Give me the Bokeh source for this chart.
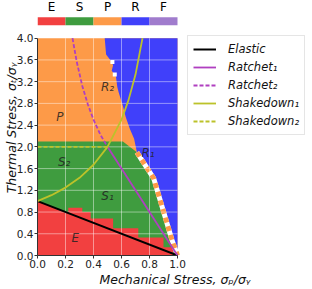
from bokeh.plotting import figure
from bokeh.models import Range1d, FixedTicker, Legend, LegendItem, PrintfTickFormatter
from bokeh.embed import file_html
from bokeh.resources import INLINE
from bokeh.core.properties import value

FONT = "DejaVu Sans"

# ---------------- data ----------------
regime_labels = ["E", "S", "P", "R", "F"]
regime_colors = ["#f24040", "#3f9c3f", "#fd9a48", "#4040fa", "#a07ccd"]

x_ticks = [0.0, 0.2, 0.4, 0.6, 0.8, 1.0]
y_ticks = [0.0, 0.4, 0.8, 1.2, 1.6, 2.0, 2.4, 2.8, 3.2, 3.6, 4.0]

# regime regions
orange_x = [0.0, 1.0, 1.0, 0.0]
orange_y = [0.0, 0.0, 4.0, 4.0]

red_x = [0.0, 0.0, 0.22, 0.22, 0.32, 0.32, 0.38, 0.38, 0.54, 0.54, 0.72, 0.72, 0.9, 0.9, 0.97, 0.97]
red_y = [0.0, 1.0, 0.78, 0.88, 0.88, 0.8, 0.8, 0.68, 0.68, 0.5, 0.5, 0.33, 0.33, 0.15, 0.15, 0.0]

green_x = [0.0, 0.0, 0.61, 0.71, 0.83, 0.96, 1.0]
green_y = [0.0, 2.1, 2.1, 1.9, 1.42, 0.29, 0.0]

blue_x = [0.48, 0.49, 0.52, 0.54, 0.53, 0.56, 0.57, 0.58, 0.61, 0.63, 0.66, 0.69, 0.71, 0.83, 0.96, 1.0, 1.0]
blue_y = [4.0, 3.7, 3.6, 3.5, 3.4, 3.3, 3.1, 3.0, 2.75, 2.55, 2.33, 2.15, 1.9, 1.42, 0.29, 0.0, 4.0]

notch_x = [0.535, 0.552]
notch_y = [3.56, 3.33]

stripe_x = [0.71, 0.83, 0.96, 1.0]
stripe_y = [1.9, 1.42, 0.29, 0.0]

# boundary curves
elastic_x = [0.0, 1.0]
elastic_y = [1.0, 0.0]
ratchet1_x = [0.5, 1.0]
ratchet1_y = [2.0, 0.0]
ratchet2_x = [0.25, 0.28, 0.32, 0.36, 0.40, 0.45, 0.50]
ratchet2_y = [4.0, 3.57, 3.12, 2.78, 2.50, 2.22, 2.0]
shake1_x = [0.0, 0.1, 0.2, 0.3, 0.4, 0.5, 0.6, 0.65, 0.7, 0.75]
shake1_y = [1.0, 1.11, 1.25, 1.43, 1.67, 2.0, 2.5, 2.86, 3.33, 4.0]
shake2_x = [0.0, 0.5]
shake2_y = [2.0, 2.0]

region_names = ["E", "S\u2081", "S\u2082", "P", "R\u2081", "R\u2082"]
region_x = [0.27, 0.50, 0.19, 0.16, 0.79, 0.50]
region_y = [0.33, 1.10, 1.73, 2.55, 1.88, 3.10]

# ---------------- layout constants (pixels) ----------------
W, H = 312, 289
LEFT, BOTTOM = 37, 32
FRAME_W, FRAME_H = W - LEFT, H - BOTTOM
PX_X = 140.0          # pixels per unit of mechanical stress
PX_Y = 54.75          # pixels per unit of thermal stress

x_max = x_ticks[-1]
y_max = y_ticks[-1]

p = figure(width=W, height=H,
           x_range=Range1d(0, FRAME_W / PX_X), y_range=Range1d(0, FRAME_H / PX_Y),
           output_backend="svg", toolbar_location=None,
           min_border_left=LEFT, min_border_right=0, min_border_top=0, min_border_bottom=BOTTOM)
p.background_fill_color = "white"
p.border_fill_color = "white"
p.outline_line_color = None
p.grid.visible = False

# regions
for xs, ys, col in [(orange_x, orange_y, regime_colors[2]),
                    (green_x, green_y, regime_colors[1]),
                    (blue_x, blue_y, regime_colors[3]),
                    (red_x, red_y, regime_colors[0])]:
    p.patch(xs, ys, fill_color=col, line_color=None)

p.scatter(notch_x, notch_y, marker="square", size=4, fill_color="white", line_color=None)

p.line(stripe_x, stripe_y, line_color="white", line_width=5)
p.line(stripe_x, stripe_y, line_color=regime_colors[2], line_width=5, line_dash="5 4")

# grid (inside the data box)
gx = x_ticks[1:-1]
gy = y_ticks[1:-1]
p.segment(x0=gx, y0=[y_ticks[0]] * len(gx), x1=gx, y1=[y_max] * len(gx),
          line_color="white", line_alpha=0.45, line_width=1)
p.segment(x0=[x_ticks[0]] * len(gy), y0=gy, x1=[x_max] * len(gy), y1=gy,
          line_color="white", line_alpha=0.45, line_width=1)

# curves
r_el = p.line(elastic_x, elastic_y, line_color="black", line_width=2)
r_r1 = p.line(ratchet1_x, ratchet1_y, line_color="#b03fc0", line_width=1.8)
r_r2 = p.line(ratchet2_x, ratchet2_y, line_color="#b03fc0", line_width=1.8, line_dash="4 2")
r_s1 = p.line(shake1_x, shake1_y, line_color="#bcc22a", line_width=1.8)
r_s2 = p.line(shake2_x, shake2_y, line_color="#bcc22a", line_width=1.8, line_dash="4 2")

p.text(x=region_x, y=region_y, text=region_names, text_align="center", text_baseline="middle",
       text_font_size="12px", text_font_style="italic", text_font=value(FONT),
       text_color="#222222", text_alpha=0.85)

# colour key above the chart
n = len(regime_labels)
seg = x_max / n
key_left = [i * seg for i in range(n)]
key_right = [(i + 1) * seg for i in range(n)]
key_mid = [(i + 0.5) * seg for i in range(n)]
key_bottom = (FRAME_H - 25) / PX_Y
key_top = (FRAME_H - 17) / PX_Y
key_text_y = (FRAME_H - 7) / PX_Y
p.quad(left=key_left, right=key_right, bottom=key_bottom, top=key_top,
       fill_color=regime_colors, line_color=None)
p.text(x=key_mid, y=key_text_y, text=regime_labels, text_align="center",
       text_baseline="middle", text_font_size="12px", text_font=value(FONT), text_color="black")

# axes
p.xaxis.ticker = FixedTicker(ticks=x_ticks)
p.yaxis.ticker = FixedTicker(ticks=y_ticks)
p.xaxis.bounds = (x_ticks[0], x_max)
p.yaxis.bounds = (y_ticks[0], y_max)
p.axis.formatter = PrintfTickFormatter(format="%.1f")
for ax in p.axis:
    ax.major_label_text_font = FONT
    ax.major_label_text_font_size = "10.5px"
    ax.major_label_text_color = "#222222"
    ax.axis_label_text_font = FONT
    ax.axis_label_text_font_size = "12.5px"
    ax.axis_label_text_font_style = "italic"
    ax.axis_label_text_color = "#111111"
    ax.major_tick_out = 3
    ax.major_tick_in = 0
    ax.minor_tick_out = 0
    ax.minor_tick_in = 0
    ax.major_label_standoff = 1
    ax.axis_label_standoff = 1
    ax.axis_line_color = "#333333"
    ax.major_tick_line_color = "#333333"
p.yaxis.axis_label_standoff = -5

p.xaxis.axis_label = "Mechanical Stress, \u03c3\u209a/\u03c3\u1d67"
p.yaxis.axis_label = "Thermal Stress, \u03c3\u209c/\u03c3\u1d67"

legend = Legend(items=[
    LegendItem(label="Elastic", renderers=[r_el]),
    LegendItem(label="Ratchet\u2081", renderers=[r_r1]),
    LegendItem(label="Ratchet\u2082", renderers=[r_r2]),
    LegendItem(label="Shakedown\u2081", renderers=[r_s1]),
    LegendItem(label="Shakedown\u2082", renderers=[r_s2]),
], location=(150, 120))
legend.label_text_font = FONT
legend.label_text_font_size = "11.5px"
legend.label_text_font_style = "italic"
legend.label_text_color = "#111111"
legend.glyph_width = 23
legend.glyph_height = 16
legend.label_height = 16
legend.label_standoff = 12
legend.spacing = 2
legend.padding = 5
legend.margin = 0
legend.border_line_color = "#cccccc"
legend.border_line_width = 1
legend.background_fill_color = "white"
p.add_layout(legend)

open("out.html", "w").write(file_html(p, INLINE))
